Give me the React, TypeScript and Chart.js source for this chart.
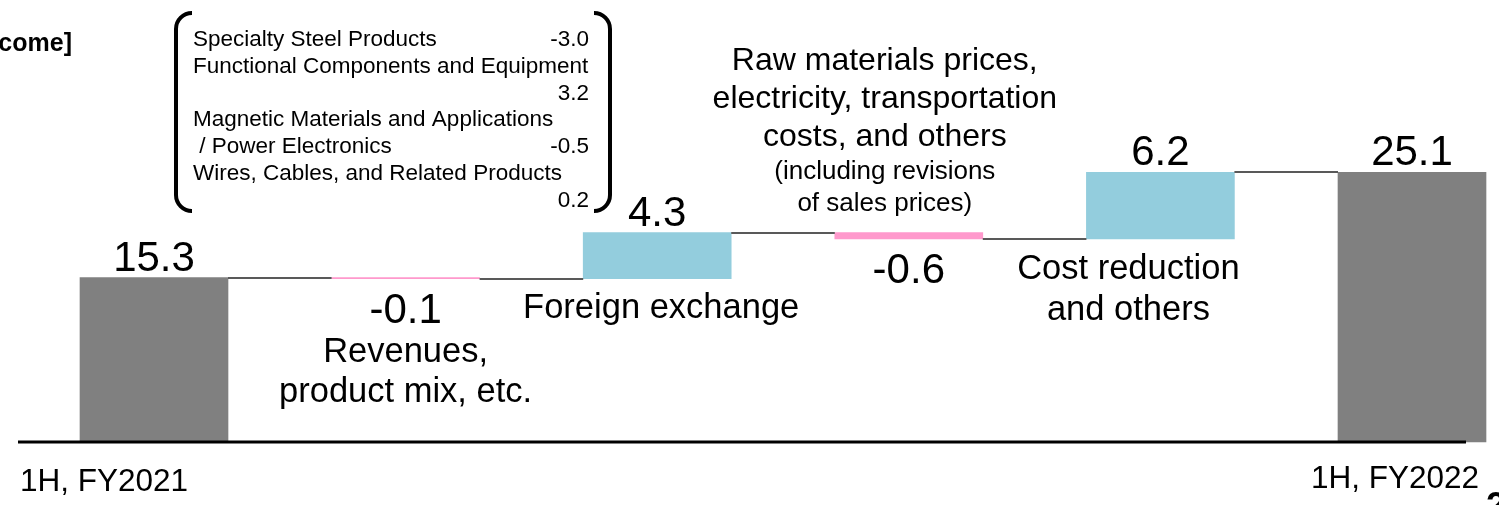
import React, { useEffect, useRef } from "react";
import { Chart, registerables } from "chart.js";

Chart.register(...registerables);

const categories = [
  "1H, FY2021",
  "Revenues, product mix, etc.",
  "Foreign exchange",
  "Raw materials prices, electricity, transportation costs, and others",
  "Cost reduction and others",
  "1H, FY2022",
];
const deltas = [15.3, -0.1, 4.3, -0.6, 6.2, 25.1];
const isTotal = [true, false, false, false, false, true];
const valueLabels = ["15.3", "-0.1", "4.3", "-0.6", "6.2", "25.1"];
const segmentNames = [
  "Specialty Steel Products",
  "Functional Components and Equipment",
  "Magnetic Materials and Applications",
  "Wires, Cables, and Related Products",
];
const segmentValues = ["-3.0", "3.2", "-0.5", "0.2"];
const title = "[Adjusted operating income]";

const GRAY = "#808080";
const PINK = "#FF99CC";
const CYAN = "#93CDDD";
const FONT = "'Liberation Sans', Arial, sans-serif";

function buildFloating() {
  const out: [number, number][] = [];
  let run = 0;
  deltas.forEach((d, i) => {
    if (isTotal[i]) {
      out.push([0, d]);
      run = d;
    } else {
      const start = run;
      run = Math.round((run + d) * 10) / 10;
      out.push([start, run]);
    }
  });
  return out;
}

const floating = buildFloating();
const colors = deltas.map((d, i) => (isTotal[i] ? GRAY : d < 0 ? PINK : CYAN));

const overlayPlugin = {
  id: "overlay",
  afterDatasetsDraw(chart: any) {
    const ctx = chart.ctx as CanvasRenderingContext2D;
    const meta = chart.getDatasetMeta(0);
    const y = chart.scales.y;
    const bars = meta.data as any[];
    ctx.save();
    // connectors
    ctx.strokeStyle = "#595959";
    ctx.lineWidth = 2;
    for (let i = 0; i < bars.length - 1; i++) {
      const level = floating[i][1];
      const yp = Math.round(y.getPixelForValue(level));
      const x1 = bars[i].x + bars[i].width / 2;
      const x2 = bars[i + 1].x - bars[i + 1].width / 2;
      ctx.beginPath();
      ctx.moveTo(x1, yp);
      ctx.lineTo(x2, yp);
      ctx.stroke();
    }
    // axis line
    const y0 = y.getPixelForValue(0);
    ctx.fillStyle = "#000";
    ctx.fillRect(18, y0 - 1.5, 1448, 3);

    // value labels
    ctx.fillStyle = "#000";
    ctx.textAlign = "center";
    ctx.textBaseline = "alphabetic";
    ctx.font = `42px ${FONT}`;
    bars.forEach((b: any, i: number) => {
      const top = Math.min(b.y, b.base);
      const bottom = Math.max(b.y, b.base);
      if (deltas[i] >= 0) {
        ctx.fillText(valueLabels[i], b.x, top - 7);
      } else {
        ctx.fillText(valueLabels[i], b.x, bottom + 44);
      }
    });

    // descriptions
    const cx = (i: number) => bars[i].x;
    ctx.font = `34.5px ${FONT}`;
    ctx.fillText("Revenues,", cx(1), 362);
    ctx.fillText("product mix, etc.", cx(1), 402);
    ctx.fillText("Foreign exchange", cx(2) + 4, 318);
    ctx.fillText("Cost reduction", cx(4) - 32, 279);
    ctx.fillText("and others", cx(4) - 32, 320);
    ctx.font = `32px ${FONT}`;
    ctx.fillText("Raw materials prices,", cx(3) - 24, 70);
    ctx.fillText("electricity, transportation", cx(3) - 24, 108);
    ctx.fillText("costs, and others", cx(3) - 24, 146);
    ctx.font = `26px ${FONT}`;
    ctx.fillText("(including revisions", cx(3) - 24, 179);
    ctx.fillText("of sales prices)", cx(3) - 24, 211);

    // x category labels
    ctx.font = `31.5px ${FONT}`;
    ctx.textAlign = "left";
    ctx.fillText(categories[0], 20, 491);
    ctx.textAlign = "right";
    ctx.fillText(categories[5], 1479, 488);

    // title (clipped at left edge)
    ctx.font = `bold 25px ${FONT}`;
    ctx.textAlign = "right";
    ctx.fillText(title, 72, 51);

    // page number fragment
    ctx.textAlign = "left";
    ctx.font = `bold 36px ${FONT}`;
    ctx.fillText("23", 1486, 518);

    // bracket box text
    ctx.font = `22.5px ${FONT}`;
    const lx = 193;
    const rx = 589;
    const lines: [string, string][] = [
      [segmentNames[0], segmentValues[0]],
      [segmentNames[1], ""],
      ["", segmentValues[1]],
      [segmentNames[2], ""],
      [" / Power Electronics", segmentValues[2]],
      [segmentNames[3], ""],
      ["", segmentValues[3]],
    ];
    lines.forEach(([l, r], k) => {
      const by = 46 + k * 26.8;
      if (l) {
        ctx.textAlign = "left";
        ctx.fillText(l, lx, by);
      }
      if (r) {
        ctx.textAlign = "right";
        ctx.fillText(r, rx, by);
      }
    });

    // brackets
    ctx.strokeStyle = "#000";
    ctx.lineWidth = 4;
    ctx.lineCap = "butt";
    ctx.beginPath();
    ctx.moveTo(192, 13);
    ctx.arcTo(176, 13, 176, 32, 16);
    ctx.lineTo(176, 194);
    ctx.arcTo(176, 211, 192, 211, 16);
    ctx.stroke();
    ctx.beginPath();
    ctx.moveTo(594, 13);
    ctx.arcTo(610, 13, 610, 32, 16);
    ctx.lineTo(610, 194);
    ctx.arcTo(610, 211, 594, 211, 16);
    ctx.stroke();
    ctx.restore();
  },
};

export default function App() {
  const ref = useRef<HTMLCanvasElement | null>(null);
  useEffect(() => {
    if (!ref.current) return;
    const chart = new Chart(ref.current, {
      type: "bar",
      data: {
        labels: categories,
        datasets: [
          {
            data: floating as any,
            backgroundColor: colors,
            borderWidth: 0,
            barThickness: 148,
            clip: false as any,
          },
        ],
      },
      options: {
        responsive: false,
        animation: false,
        devicePixelRatio: 1,
        layout: { padding: { left: 154, right: 87, top: 0, bottom: 63 } },
        plugins: { legend: { display: false }, tooltip: { enabled: false }, title: { display: false } },
        scales: {
          x: { type: "category", display: false, offset: false, grid: { display: false } },
          y: { display: false, min: 0, max: 41.15, grid: { display: false } },
        },
      },
      plugins: [overlayPlugin],
    });
    return () => chart.destroy();
  }, []);
  return (
    <div style={{ position: "absolute", left: 0, top: 0, width: 1499, height: 505, background: "#fff" }}>
      <canvas ref={ref} width={1499} height={505} style={{ display: "block" }} />
    </div>
  );
}
